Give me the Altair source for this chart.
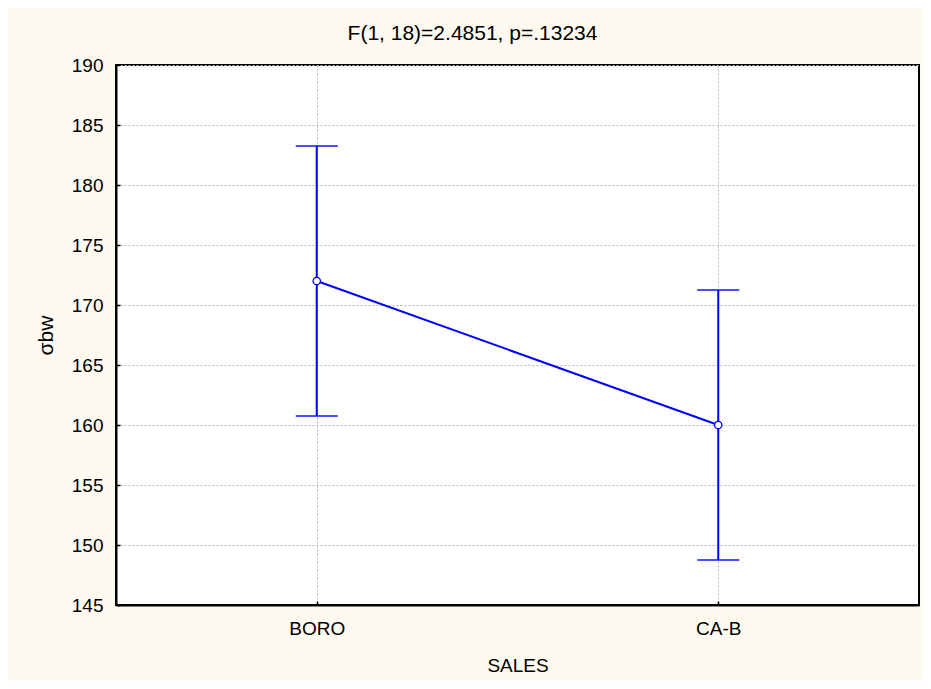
import altair as alt
import pandas as pd

categories = ["BORO", "CA-B"]
means = [172.0, 160.0]
lower = [160.75, 148.75]
upper = [183.25, 171.25]
y_ticks = [145, 150, 155, 160, 165, 170, 175, 180, 185, 190]

title_text = "F(1, 18)=2.4851, p=.13234"
x_title = "SALES"
y_title = "σbw"

df = pd.DataFrame({"SALES": categories, "mean": means, "lo": lower, "hi": upper})

FONT = "Liberation Sans"
BLUE = "#0000FF"
FS = 19

x_scale = alt.Scale(type="point", padding=0.5)
y_scale = alt.Scale(domain=[145, 190], nice=False, zero=False)

x_axis = alt.Axis(title=x_title, labelAngle=0, grid=True, gridColor="#b8b8b8",
                  gridDash=[2, 2], gridWidth=1, ticks=False, tickSize=0,
                  domain=True, domainColor="#000", domainWidth=2,
                  labelFont=FONT, labelFontSize=FS, labelColor="#000",
                  labelPadding=14, titleFont=FONT, titleFontSize=FS,
                  titleFontWeight="normal", titleColor="#000", titlePadding=18)
y_axis = alt.Axis(title=y_title, values=y_ticks, grid=True, gridColor="#b8b8b8",
                  gridDash=[2, 2], gridWidth=1, ticks=False, tickSize=0,
                  domain=True, domainColor="#000", domainWidth=2,
                  labelFont=FONT, labelFontSize=FS, labelColor="#000",
                  labelPadding=13, titleFont=FONT, titleFontSize=FS + 2,
                  titleFontWeight="normal", titleColor="#000", titlePadding=15)

# inward tick marks drawn by a second, label-less axis pulled inside the frame
x_axis_in = alt.Axis(title=None, orient="bottom", offset=-4, labels=False, domain=False,
                     grid=False, ticks=True, tickSize=4, tickColor="#000", tickWidth=1.5)
y_axis_in = alt.Axis(title=None, orient="left", offset=-4, values=y_ticks, labels=False,
                     domain=False, grid=False, ticks=True, tickSize=4,
                     tickColor="#000", tickWidth=1.5)

X = alt.X("SALES:N", scale=x_scale, axis=x_axis, sort=categories)


def Y(field):
    return alt.Y(f"{field}:Q", scale=y_scale, axis=y_axis, title=y_title)


base = alt.Chart(df)

bars = base.mark_rule(color=BLUE, strokeWidth=2).encode(x=X, y=Y("lo"), y2="hi:Q")
cap_hi = base.mark_tick(color=BLUE, size=42, thickness=2, orient="horizontal").encode(x=X, y=Y("hi"))
cap_lo = base.mark_tick(color=BLUE, size=42, thickness=2, orient="horizontal").encode(x=X, y=Y("lo"))
line = base.mark_line(color=BLUE, strokeWidth=2).encode(x=X, y=Y("mean"))
pts = base.mark_point(filled=True, fill="white", stroke=BLUE, strokeWidth=1.3,
                      size=55, opacity=1, shape="circle").encode(x=X, y=Y("mean"))

main = alt.layer(bars, cap_hi, cap_lo, line, pts)

ticks_layer = base.mark_point(opacity=0).encode(
    x=alt.X("SALES:N", scale=x_scale, axis=x_axis_in, sort=categories),
    y=alt.Y("mean:Q", scale=y_scale, axis=y_axis_in),
)

chart = alt.layer(main, ticks_layer).resolve_axis(x="independent", y="independent").properties(
    width=803,
    height=540,
    autosize=alt.AutoSizeParams(type="none"),
    padding={"left": 108, "top": 57, "right": 4, "bottom": 76},
    background="#FFFAF0",
    title=alt.TitleParams(text=title_text, font=FONT, fontSize=21,
                          fontWeight="normal", color="#000", anchor="middle",
                          dx=-45, offset=12),
).configure_view(
    fill="white", stroke="#000", strokeWidth=2
)

chart.save("out.html", embed_options={"renderer": "svg", "actions": False})
